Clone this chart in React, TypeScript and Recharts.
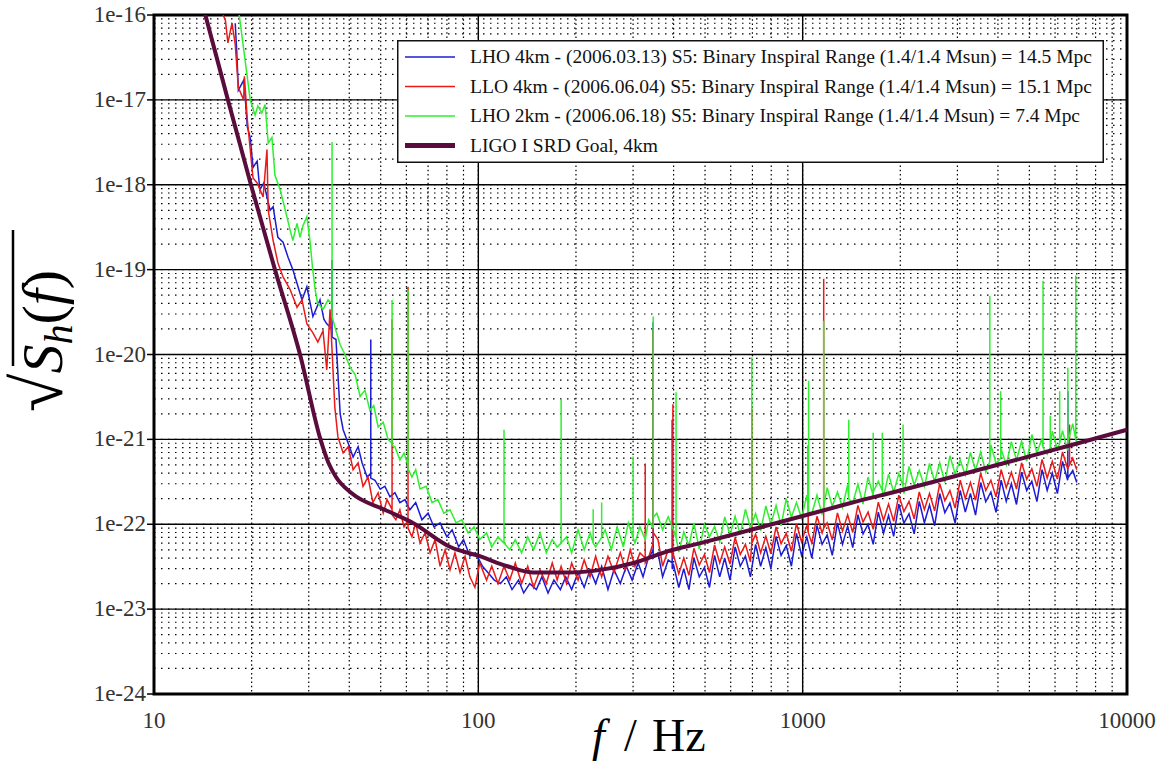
import React from "react"
import { LineChart, Line, XAxis, YAxis, CartesianGrid, ReferenceLine, ReferenceArea } from "recharts"

const BLUE = "#1c1cd4"
const RED = "#ea1a1a"
const GREEN = "#2ef02e"
const SRD_COLOR = "#5a0c3c"
const SERIF: React.CSSProperties = { fontFamily: '"Liberation Serif", "Times New Roman", serif' }

// axis decades (labelled) and the minor steps inside each decade
const xLabels = [10, 100, 1000, 10000]
const yLabels = [1e-24, 1e-23, 1e-22, 1e-21, 1e-20, 1e-19, 1e-18, 1e-17, 1e-16]
const minorSteps = [2, 3, 4, 5, 6, 7, 8, 9]
const xTicks = [...xLabels, ...xLabels.slice(0, -1).flatMap((d) => minorSteps.map((m) => m * d))].sort((a, b) => a - b)
const yTicks = [...yLabels, ...yLabels.slice(0, -1).flatMap((d) => minorSteps.map((m) => m * d))].sort((a, b) => a - b)

// [f (Hz), sqrt(Sh)] below 400 Hz, spikes written as base / peak / base
const lho4Low = [
  [17.8, 8e-17], [18.0, 3.6e-17], [18.2, 1.3e-17], [18.9, 1.7e-17], [19.1, 1.1e-17], [19.4, 4.8e-18], [19.8, 3.6e-18],
  [20.2, 1.6e-18], [20.8, 1.9e-18], [21.2, 8.7e-19], [21.8, 1.05e-18], [22.3, 7.2e-19], [22.8, 5e-19], [23.3, 5.5e-19],
  [24.1, 2.4e-19], [25.0, 2.1e-19], [25.9, 1.4e-19], [26.8, 1e-19], [27.6, 6.9e-20], [28.6, 4.4e-20], [29.6, 6.3e-20],
  [30.9, 2.8e-20], [32.5, 4.4e-20], [33.4, 2.6e-20], [34.1, 2.3e-20], [35.4, 2e-20], [35.4, 1.3e-19], [35.4, 1.6e-20],
  [36.4, 1.5e-20], [37.5, 2e-21], [38.3, 1.3e-21], [39.7, 9e-22], [41.1, 6.2e-22], [42.6, 8.2e-22], [43.8, 5.3e-22],
  [45.4, 3.6e-22], [46.6, 4e-22], [46.6, 1.5e-20], [46.6, 3.5e-22], [48.0, 3.3e-22], [49.8, 2.6e-22], [51.5, 2.8e-22],
  [53.4, 2.1e-22], [55.3, 2.35e-22], [57.3, 1.8e-22], [59.4, 1.95e-22], [61.5, 1.48e-22], [64.1, 1.8e-22], [67, 1.13e-22],
  [70, 1.35e-22], [73, 9.3e-23], [76.2, 1.04e-22], [80, 7.1e-23], [83, 8.6e-23], [87, 5.4e-23], [90, 6.6e-23],
  [94.2, 4.2e-23], [98, 4.6e-23], [103, 3.2e-23], [107, 2.7e-23], [112, 2.2e-23], [117, 2e-23], [122, 2.4e-23],
  [127, 1.7e-23], [133, 2.2e-23], [138, 1.55e-23], [144, 2e-23], [151, 1.7e-23], [157, 2.4e-23], [164, 1.55e-23],
  [171, 2.2e-23], [179, 1.7e-23], [186, 2.4e-23], [194, 1.7e-23], [203, 2.7e-23], [212, 1.8e-23], [221, 2.9e-23],
  [230, 2e-23], [240, 3.2e-23], [251, 1.7e-23], [262, 2.9e-23], [274, 2e-23], [286, 3.2e-23], [298, 2.2e-23],
  [311, 3.5e-23], [322, 2.4e-23], [333, 3.8e-23], [346, 5e-23], [346, 2.4e-20], [346, 4e-23], [358, 4.6e-23],
  [370, 2.4e-23], [385, 3.8e-23], [396, 3.5e-23], [396, 1.7e-21], [396, 3e-23],
]

const llo4Low = [
  [16.0, 1.2e-16], [16.6, 8.7e-17], [16.9, 4.7e-17], [17.4, 8e-17], [17.8, 4.5e-17], [18.2, 1.4e-17], [18.9, 1e-17],
  [19.0, 1.9e-17], [19.4, 5.8e-18], [19.8, 2.6e-18], [20.2, 1.2e-18], [20.8, 1.05e-18], [21.7, 7.2e-19], [22.3, 2.6e-18],
  [22.5, 5e-19], [23.3, 2.2e-19], [24.1, 1.2e-19], [25.0, 8.2e-20], [26.3, 5.8e-20], [27.6, 3.6e-20], [28.6, 4.4e-20],
  [29.6, 2.3e-20], [30.9, 1.8e-20], [32.0, 1.4e-20], [33.2, 1.9e-20], [34.1, 6.6e-21], [34.9, 3.4e-20], [36.1, 2.4e-21],
  [36.9, 1.07e-21], [38.3, 6.9e-22], [39.7, 8.2e-22], [41.1, 4.4e-22], [42.6, 5.3e-22], [44.1, 2.8e-22], [45.7, 3.6e-22],
  [47.3, 1.8e-22], [49.1, 2.35e-22], [50.9, 1.35e-22], [52.3, 1.95e-22], [54.2, 1.5e-22], [54.2, 2.6e-20], [54.2, 1.3e-22],
  [55.7, 1.13e-22], [57.3, 1.48e-22], [59.0, 9.3e-23], [60.7, 1.1e-22], [60.7, 6.3e-20], [60.7, 9e-23], [62.4, 7.1e-23],
  [64.1, 1.04e-22], [66.1, 6e-23], [68.5, 7.9e-23], [71, 4.6e-23], [73.6, 6.6e-23], [76.2, 3.2e-23], [79, 5e-23],
  [81.8, 2.9e-23], [84.7, 4.6e-23], [87.8, 2.7e-23], [91, 4.2e-23], [94.2, 2.4e-23], [97.6, 1.8e-23], [101, 3.5e-23],
  [106, 2.2e-23], [110, 3.2e-23], [115, 2e-23], [120, 3.2e-23], [125, 2.2e-23], [130, 3.5e-23], [136, 2e-23],
  [142, 3.2e-23], [148, 1.8e-23], [155, 2.9e-23], [162, 2e-23], [169, 3.5e-23], [175, 2.2e-23], [180, 3.2e-23],
  [187, 2e-23], [194, 3.5e-23], [203, 2.2e-23], [212, 3.8e-23], [221, 2.4e-23], [230, 4.2e-23], [240, 2.4e-23],
  [251, 4.2e-23], [262, 2.7e-23], [274, 4.6e-23], [284, 2.9e-23], [294, 5e-23], [304, 3.2e-23], [315, 4.6e-23],
  [327, 4e-23], [327, 5.2e-22], [327, 3.5e-23], [333, 3.8e-23], [346, 6e-23], [346, 2e-20], [346, 8e-23], [358, 6.6e-23],
  [370, 3.2e-23], [385, 5e-23], [398, 4.5e-23], [398, 2.6e-21], [398, 4e-23],
]

const lho2Low = [
  [18.2, 1.2e-16], [19.1, 2.9e-17], [19.8, 1e-17], [20.5, 6.6e-18], [20.9, 8.5e-18], [21.5, 7e-18], [22.0, 8.8e-18],
  [22.5, 3.1e-18], [23.1, 3.6e-18], [23.6, 1.3e-18], [24.5, 8.7e-19], [25.4, 5e-19], [26.3, 2.9e-19], [26.8, 2.2e-19],
  [27.6, 3.5e-19], [28.2, 2.4e-19], [28.8, 3.3e-19], [29.6, 4.2e-19], [30.3, 2.1e-19], [30.8, 1.07e-19], [31.4, 5.8e-20],
  [31.9, 4.1e-20], [33.2, 3.4e-20], [34.4, 4.4e-20], [35.4, 3.9e-20], [35.4, 3.2e-18], [35.4, 2.8e-20], [36.4, 1.9e-20],
  [37.5, 1.3e-20], [38.8, 1.0e-20], [40.2, 7.1e-21], [41.7, 5.8e-21], [43.2, 3.2e-21], [44.7, 3.8e-21], [46.3, 2.2e-21],
  [47.6, 2.5e-21], [49.1, 1.4e-21], [50.9, 1.6e-21], [52.7, 1e-21], [54.2, 9e-22], [54.2, 4.4e-20], [54.2, 8.5e-22],
  [55.3, 8.2e-22], [57.3, 5.7e-22], [59.0, 6.9e-22], [60.7, 5e-22], [60.7, 5.8e-20], [60.7, 4.5e-22], [62.4, 3.6e-22],
  [64.1, 4.4e-22], [66.1, 2.6e-22], [69, 2.8e-22], [72, 1.8e-22], [75, 1.95e-22], [78.3, 1.35e-22], [81.8, 1.48e-22],
  [85.4, 1.04e-22], [89, 1.13e-22], [93, 7.9e-23], [97, 9.3e-23], [101, 6.6e-23], [106, 7.9e-23], [110, 5.4e-23],
  [115, 7.1e-23], [120, 6e-23], [120, 1.3e-21], [120, 6e-23], [125, 5e-23], [130, 6.6e-23], [136, 4.6e-23], [142, 7.1e-23],
  [148, 5e-23], [155, 7.9e-23], [162, 4.6e-23], [169, 6.6e-23], [175, 5.4e-23], [180, 6e-23], [180, 3e-21], [180, 6e-23],
  [187, 7.1e-23], [194, 4.6e-23], [203, 8.6e-23], [212, 5e-23], [221, 7.9e-23], [226, 6e-23], [226, 1.5e-22], [226, 6e-23],
  [230, 5.4e-23], [240, 7e-23], [240, 1.8e-22], [240, 7e-23], [246, 8.6e-23], [257, 5e-23], [268, 9.3e-23], [280, 5.4e-23],
  [290, 1.04e-22], [300, 7e-23], [300, 6.3e-22], [300, 7e-23], [304, 6e-23], [315, 9.3e-23], [327, 6.6e-23], [335, 1.13e-22],
  [346, 9e-23], [346, 2.8e-20], [346, 1.2e-22], [355, 1.35e-22], [370, 8.6e-23], [385, 1.23e-22],
]

// 400 Hz - 7 kHz noise band, shared frequency list
const bandFreq = [
  400, 415, 430, 446, 462, 480, 498, 516, 535, 555,
  575, 597, 619, 642, 666, 690, 716, 742, 770, 798,
  828, 858, 890, 923, 957, 992, 1030, 1067, 1107, 1148,
  1190, 1234, 1280, 1327, 1376, 1427, 1480, 1535, 1591, 1650,
  1711, 1775, 1840, 1908, 1979, 2052, 2128, 2207, 2288, 2373,
  2461, 2552, 2646, 2744, 2845, 2951, 3060, 3173, 3290, 3412,
  3538, 3669, 3805, 3946, 4092, 4243, 4400, 4563, 4731, 4906,
  5088, 5276, 5471, 5674, 5884, 6101, 6327, 6561, 6804, 7000,
]

const lho4Band = [
  3.3e-23, 1.8e-23, 3.0e-23, 1.7e-23, 4.0e-23, 2.4e-23, 3.1e-23, 1.8e-23, 4.3e-23, 2.4e-23,
  4.0e-23, 2.2e-23, 5.4e-23, 3.2e-23, 4.2e-23, 2.4e-23, 5.8e-23, 3.2e-23, 5.3e-23, 3.0e-23,
  7.2e-23, 4.3e-23, 5.6e-23, 3.2e-23, 7.8e-23, 4.3e-23, 7.1e-23, 4.0e-23, 9.7e-23, 5.8e-23,
  7.5e-23, 4.3e-23, 1.04e-22, 5.8e-23, 9.5e-23, 5.3e-23, 1.3e-22, 7.7e-23, 1.0e-22, 5.8e-23,
  1.39e-22, 7.8e-23, 1.27e-22, 7.2e-23, 1.73e-22, 1.03e-22, 1.33e-22, 7.7e-23, 1.86e-22, 1.04e-22,
  1.69e-22, 9.6e-23, 2.3e-22, 1.37e-22, 1.78e-22, 1.03e-22, 2.5e-22, 1.39e-22, 2.3e-22, 1.28e-22,
  3.1e-22, 1.84e-22, 2.4e-22, 1.38e-22, 3.3e-22, 1.86e-22, 3.0e-22, 1.71e-22, 4.1e-22, 2.5e-22,
  3.2e-22, 1.85e-22, 4.4e-22, 2.5e-22, 4.0e-22, 2.3e-22, 5.5e-22, 3.3e-22, 4.3e-22, 3.1e-22,
]

const llo4Band = [
  4.3e-23, 2.6e-23, 4.0e-23, 2.5e-23, 5.2e-23, 3.3e-23, 4.4e-23, 2.7e-23, 5.7e-23, 3.5e-23,
  5.4e-23, 3.4e-23, 7.0e-23, 4.4e-23, 5.8e-23, 3.6e-23, 7.6e-23, 4.6e-23, 7.2e-23, 4.5e-23,
  9.3e-23, 5.9e-23, 7.8e-23, 4.8e-23, 1.02e-22, 6.2e-23, 9.7e-23, 6.0e-23, 1.24e-22, 7.9e-23,
  1.04e-22, 6.5e-23, 1.36e-22, 8.3e-23, 1.29e-22, 8.0e-23, 1.67e-22, 1.06e-22, 1.39e-22, 8.7e-23,
  1.82e-22, 1.11e-22, 1.73e-22, 1.08e-22, 2.2e-22, 1.41e-22, 1.86e-22, 1.16e-22, 2.4e-22, 1.49e-22,
  2.3e-22, 1.44e-22, 3.0e-22, 1.89e-22, 2.5e-22, 1.55e-22, 3.3e-22, 2.0e-22, 3.1e-22, 1.92e-22,
  4.0e-22, 2.5e-22, 3.3e-22, 2.1e-22, 4.4e-22, 2.7e-22, 4.1e-22, 2.6e-22, 5.3e-22, 3.4e-22,
  4.5e-22, 2.8e-22, 5.8e-22, 3.5e-22, 5.5e-22, 3.4e-22, 7.1e-22, 4.5e-22, 6.0e-22, 4.4e-22,
]

const lho2Band = [
  8.5e-23, 4.7e-23, 8.1e-23, 5.6e-23, 1.04e-22, 5.1e-23, 1.0e-22, 7.1e-23, 9.4e-23, 6.2e-23,
  1.22e-22, 7.5e-23, 1.24e-22, 7.6e-23, 1.5e-22, 9.1e-23, 1.34e-22, 8.4e-23, 1.64e-22, 1.0e-22,
  1.66e-22, 9.6e-23, 2.0e-22, 1.21e-22, 1.8e-22, 1.18e-22, 2.2e-22, 1.33e-22, 2.2e-22, 1.3e-22,
  2.7e-22, 1.62e-22, 2.4e-22, 1.58e-22, 2.9e-22, 1.78e-22, 2.96e-22, 1.73e-22, 3.6e-22, 2.16e-22,
  3.2e-22, 2.1e-22, 3.9e-22, 2.39e-22, 3.95e-22, 2.3e-22, 4.8e-22, 2.9e-22, 4.3e-22, 2.8e-22,
  5.2e-22, 3.2e-22, 5.3e-22, 3.1e-22, 6.4e-22, 3.9e-22, 5.7e-22, 3.8e-22, 7.0e-22, 4.3e-22,
  7.1e-22, 4.1e-22, 8.6e-22, 5.2e-22, 7.7e-22, 5.0e-22, 9.4e-22, 5.7e-22, 9.5e-22, 5.5e-22,
  1.14e-21, 6.9e-22, 1.03e-21, 6.7e-22, 1.25e-21, 7.6e-22, 1.27e-21, 7.4e-22, 1.53e-21, 9.2e-22,
]

// lines in the band: [f, base, peak]
const lho4Spikes = [[6570, 3.5e-22, 3.7e-21]]
const llo4Spikes = [[697, 6e-23, 2.3e-21], [1040, 8e-23, 8.5e-22], [1161, 9e-23, 7.8e-20], [6650, 5e-22, 1.5e-21]]
const lho2Spikes = [
  [407, 7e-23, 3.6e-21], [697, 1.0e-22, 9.3e-21], [1043, 1.4e-22, 4.9e-21], [1161, 1.6e-22, 2.5e-20],
  [1387, 2.0e-22, 1.7e-21], [1650, 2.4e-22, 1.2e-21], [1760, 2.5e-22, 1.2e-21], [2040, 2.8e-22, 1.5e-21],
  [3776, 5.5e-22, 4.9e-20], [4080, 6e-22, 3.7e-21], [5510, 8e-22, 7.4e-20], [5800, 8e-22, 1.9e-21],
  [6200, 9e-22, 3.7e-21], [6570, 9.5e-22, 7e-21], [6950, 1e-21, 8.5e-20],
]

const srdGoal = [
  [13.7, 2e-16], [14.4, 1e-16], [16.9, 1e-17], [19.9, 1e-18], [23.6, 1e-19], [28.2, 1e-20], [32.6, 1e-21],
  [34.5, 5.3e-22], [36.4, 3.6e-22], [40.8, 2.3e-22], [51.5, 1.48e-22], [62.5, 1.05e-22], [82, 5.4e-23],
  [101, 4.2e-23], [123, 3.2e-23], [148, 2.7e-23], [188, 2.7e-23], [238, 2.9e-23], [301, 3.5e-23],
  [383, 4.8e-23], [484, 6e-23], [700, 8.7e-23], [1000, 1.25e-22], [1406, 1.78e-22], [2000, 2.5e-22],
  [3000, 3.75e-22], [5000, 6.3e-22], [7060, 9e-22], [10000, 1.3e-21],
]

function buildSeries(low: number[][], band: number[], spikes: number[][]) {
  const pts = [
    ...low.map(([f, v]) => ({ f, v })),
    ...bandFreq.map((f, i) => ({ f, v: band[i] })),
    ...spikes.flatMap(([f, b, p]) => [{ f, v: b }, { f, v: p }, { f, v: b }]),
  ]
  return pts.sort((a, b) => a.f - b.f)
}

const lho4 = buildSeries(lho4Low, lho4Band, lho4Spikes)
const llo4 = buildSeries(llo4Low, llo4Band, llo4Spikes)
const lho2 = buildSeries(lho2Low, lho2Band, lho2Spikes)
const srd = srdGoal.map(([f, v]) => ({ f, v }))

const legendRows = [
  { label: "LHO 4km - (2006.03.13) S5: Binary Inspiral Range (1.4/1.4 Msun) = 14.5 Mpc", color: BLUE, w: 1.5, len: 622 },
  { label: "LLO 4km - (2006.06.04) S5: Binary Inspiral Range (1.4/1.4 Msun) = 15.1 Mpc", color: RED, w: 1.5, len: 622 },
  { label: "LHO 2km - (2006.06.18) S5: Binary Inspiral Range (1.4/1.4 Msun) = 7.4 Mpc", color: GREEN, w: 1.5, len: 610 },
  { label: "LIGO I SRD Goal, 4km", color: SRD_COLOR, w: 5, len: 188 },
]

const isDecade = (v: number) => Math.abs(Math.log10(v) - Math.round(Math.log10(v))) < 1e-6

function XTick(props: any) {
  const { x, payload } = props
  if (!isDecade(payload.value)) return <g />
  return (
    <text x={x} y={728} textAnchor="middle" fontSize={23} style={SERIF} fill="#333">
      {String(Math.round(payload.value))}
    </text>
  )
}

function YTick(props: any) {
  const { y, payload } = props
  if (!isDecade(payload.value)) return <g />
  return (
    <g>
      <line x1={147} x2={154} y1={y} y2={y} stroke="#000" strokeWidth={1.5} />
      <text x={146} y={y + 7} textAnchor="end" fontSize={23} style={SERIF} fill="#333">
        {"1e" + Math.round(Math.log10(payload.value))}
      </text>
    </g>
  )
}

function LegendBox() {
  return (
    <svg width={707} height={123} style={{ display: "block" }}>
      <rect x={0.75} y={0.75} width={705.5} height={121.5} fill="#fff" stroke="#111" strokeWidth={1.5} />
      {legendRows.map((r, i) => {
        const cy = 17 + i * 29.5
        return (
          <g key={i}>
            <line x1={8} x2={58} y1={cy} y2={cy} stroke={r.color} strokeWidth={r.w} />
            <text x={73} y={cy + 6} fontSize={18} style={SERIF} fill="#111" textLength={r.len} lengthAdjust="spacingAndGlyphs">
              {r.label}
            </text>
          </g>
        )
      })}
    </svg>
  )
}

function AxisTitles() {
  return (
    <svg width={1165} height={765} style={{ position: "absolute", left: 0, top: 0, pointerEvents: "none" }}>
      <text y={751} fontSize={46} style={SERIF} fill="#000">
        <tspan x={592} fontStyle="italic">f</tspan>
        <tspan x={624}>/</tspan>
        <tspan x={652}>Hz</tspan>
      </text>
      <g transform="translate(62,412) rotate(-90)">
        <text x={0} y={0} fontSize={58} style={SERIF} fill="#000">
          <tspan fontSize={70}>√</tspan>
          <tspan fontStyle="italic">S</tspan>
          <tspan fontStyle="italic" fontSize={40} dy={10}>h</tspan>
          <tspan dy={-10}>(</tspan>
          <tspan fontStyle="italic">f</tspan>
          <tspan>)</tspan>
        </text>
        <line x1={46} x2={182} y1={-49} y2={-49} stroke="#000" strokeWidth={2.5} />
      </g>
    </svg>
  )
}

export default function App() {
  return (
    <div style={{ position: "absolute", left: 0, top: 0, width: 1165, height: 765, background: "#fff" }}>
      <LineChart width={1165} height={765} margin={{ top: 15, right: 38, bottom: 0, left: 0 }}>
        <CartesianGrid vertical={false} stroke="#000" strokeWidth={1.2} strokeDasharray="1.5 5.5" />
        <CartesianGrid horizontal={false} stroke="#000" strokeWidth={1.2} strokeDasharray="1.5 2.8" />
        <XAxis
          dataKey="f"
          type="number"
          scale="log"
          domain={[10, 10000]}
          ticks={xTicks}
          interval={0}
          tick={<XTick />}
          tickLine={false}
          axisLine={false}
          height={71}
          allowDataOverflow
        />
        <YAxis
          type="number"
          scale="log"
          domain={[1e-24, 1e-16]}
          ticks={yTicks}
          interval={0}
          tick={<YTick />}
          tickLine={false}
          axisLine={false}
          width={154}
          allowDataOverflow
        />
        {xLabels.slice(1, -1).map((v) => (
          <ReferenceLine key={"x" + v} x={v} stroke="#000" strokeWidth={1.4} />
        ))}
        {yLabels.slice(1, -1).map((v) => (
          <ReferenceLine key={"y" + v} y={v} stroke="#000" strokeWidth={1.4} />
        ))}
        <Line data={lho4} dataKey="v" type="linear" stroke={BLUE} strokeWidth={1.5} dot={false} isAnimationActive={false} />
        <Line data={llo4} dataKey="v" type="linear" stroke={RED} strokeWidth={1.5} dot={false} isAnimationActive={false} />
        <Line data={lho2} dataKey="v" type="linear" stroke={GREEN} strokeWidth={1.5} dot={false} isAnimationActive={false} />
        <Line data={srd} dataKey="v" type="monotone" stroke={SRD_COLOR} strokeWidth={4} dot={false} isAnimationActive={false} />
        <ReferenceArea x1={10} x2={10000} y1={1e-24} y2={1e-16} fill="none" stroke="#000" strokeWidth={3} ifOverflow="visible" />
      </LineChart>
      <AxisTitles />
      <div style={{ position: "absolute", left: 397, top: 40 }}>
        <LegendBox />
      </div>
    </div>
  )
}
